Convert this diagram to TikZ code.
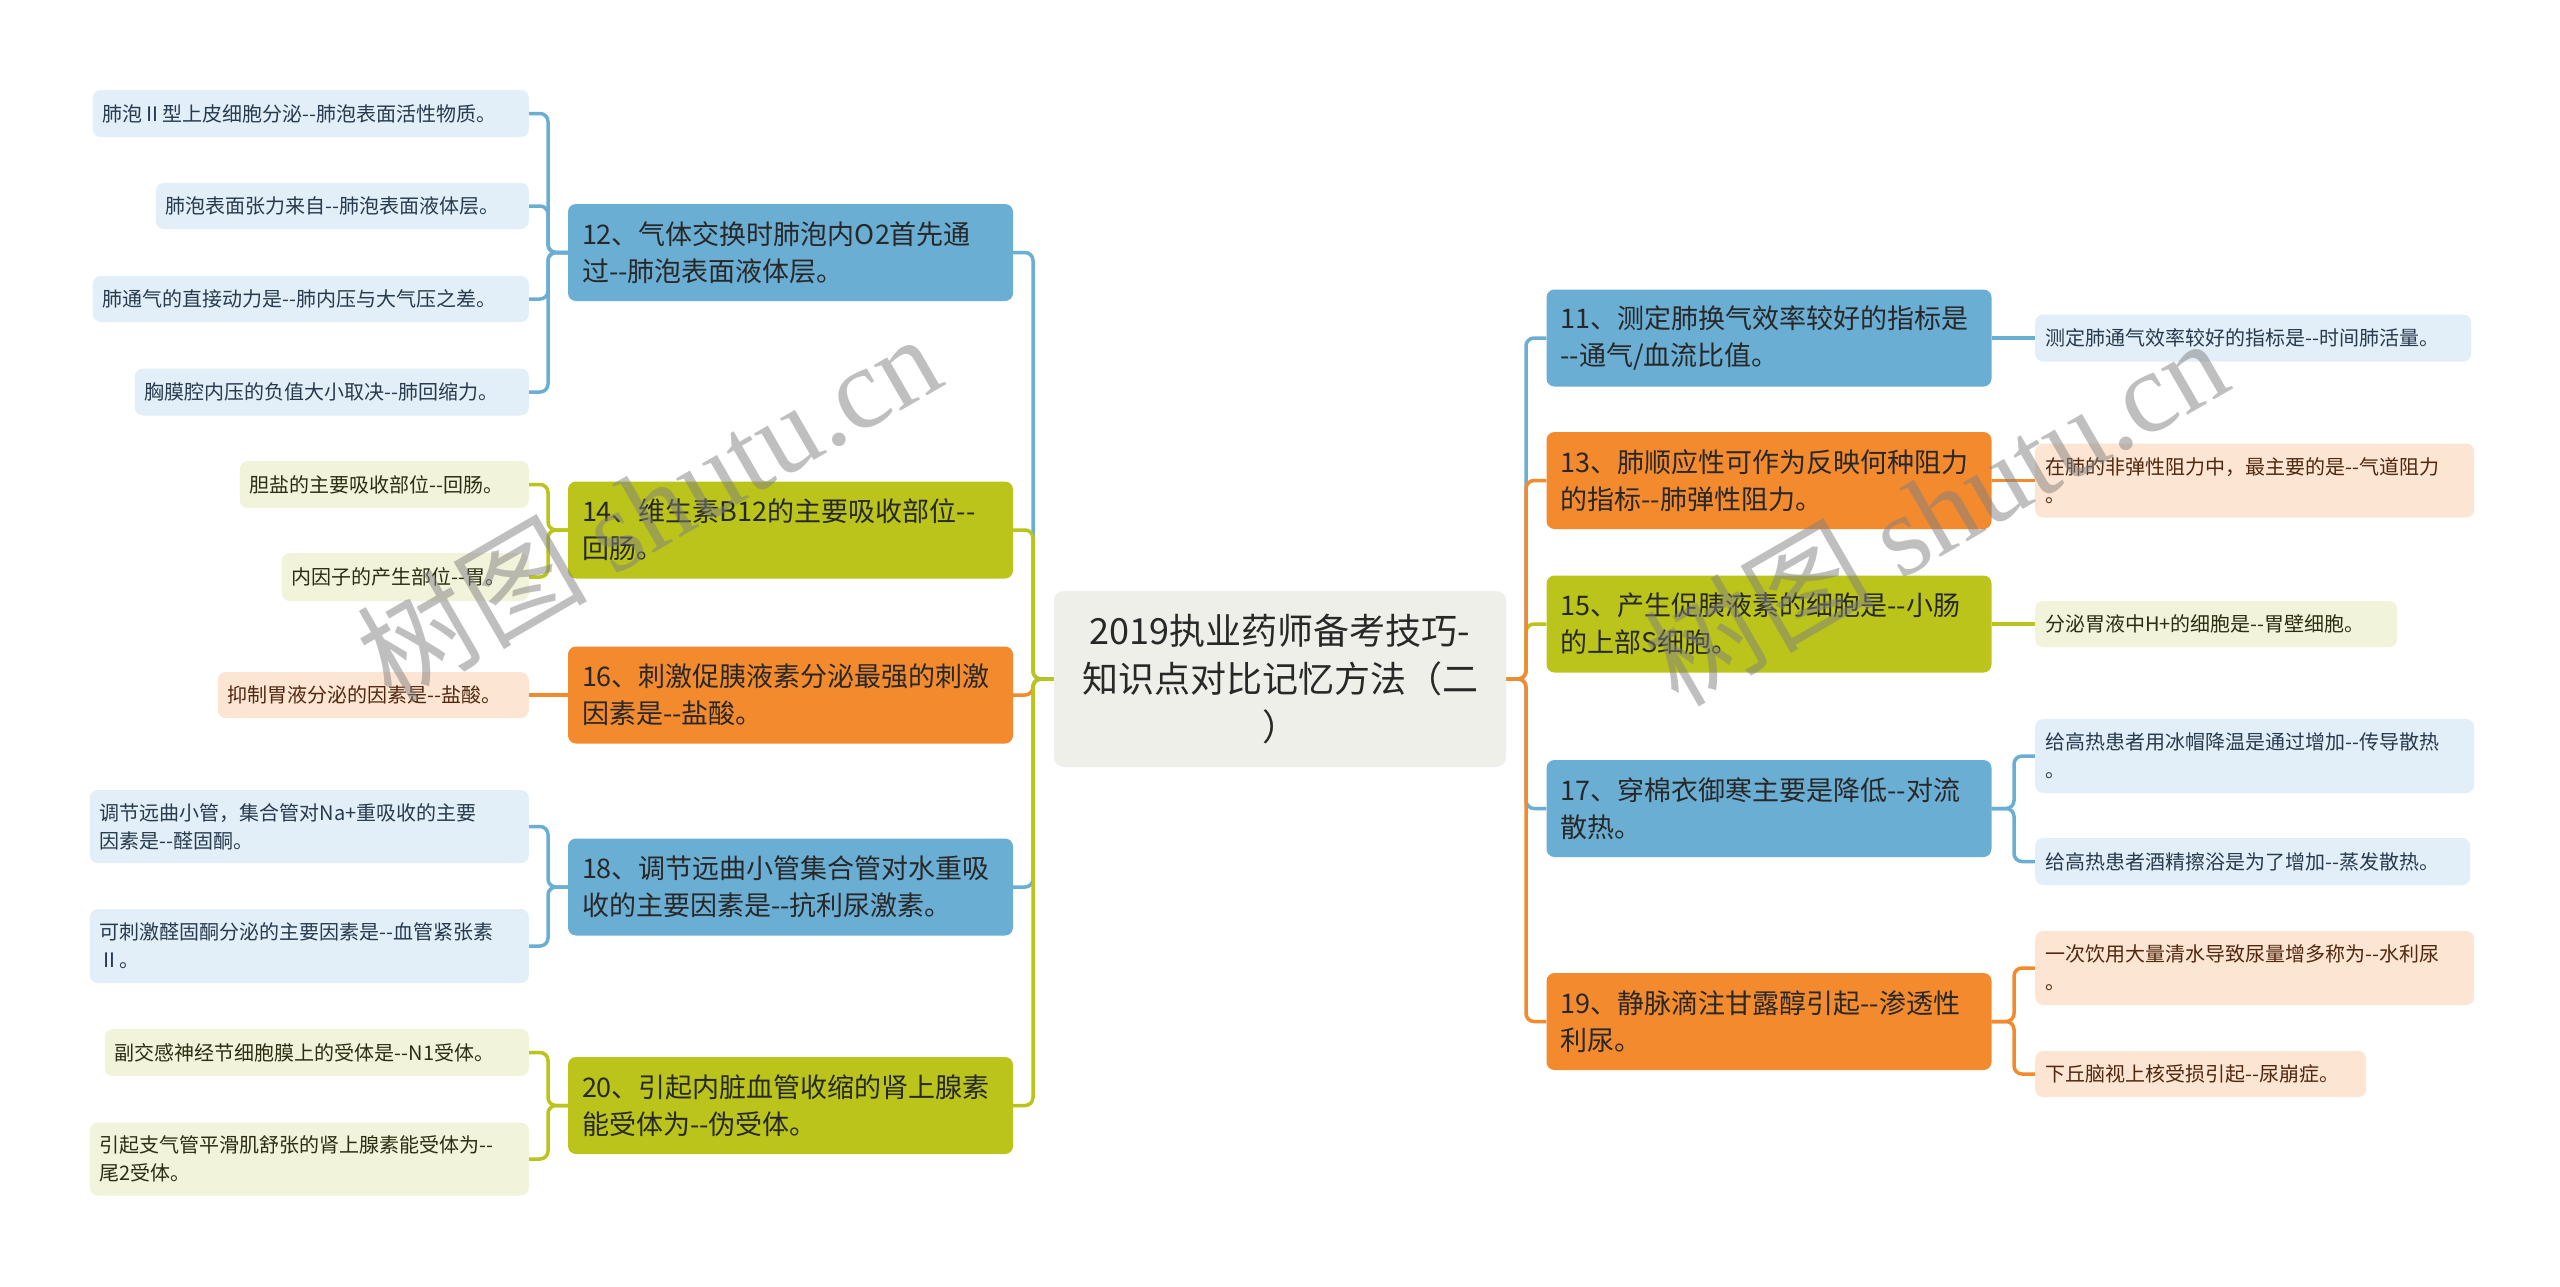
\documentclass[tikz,border=0pt]{standalone}
\usepackage{fontspec}
\newfontfamily\cjkf{Noto Sans CJK SC}
\newfontfamily\wmserif{Liberation Serif}
\usetikzlibrary{calc}
\pgfdeclarelayer{bg}
\pgfdeclarelayer{paper}
\pgfsetlayers{paper,bg,main}
\definecolor{cblue}{RGB}{106,174,212}
\definecolor{corange}{RGB}{244,138,46}
\definecolor{colive}{RGB}{187,196,26}
\definecolor{lblue}{RGB}{226,239,248}
\definecolor{lorange}{RGB}{253,229,211}
\definecolor{lolive}{RGB}{241,244,218}
\definecolor{rootfill}{RGB}{239,239,233}
\definecolor{txt}{RGB}{40,40,40}
\definecolor{tblue}{RGB}{40,58,78}
\definecolor{torange}{RGB}{80,40,15}
\definecolor{tolive}{RGB}{45,45,20}
\begin{document}
\begin{tikzpicture}[x=1pt,y=-1pt,
  rootbox/.style={rounded corners=10, fill=rootfill, inner xsep=16, inner ysep=0,
    text width=420, minimum height=176, align=center, text=txt,
    font=\cjkf\fontsize{36}{48}\selectfont},
  mainbox/.style={rounded corners=8, inner xsep=14, inner ysep=0, text width=417,
    minimum height=97, align=left, text=txt, font=\cjkf\fontsize{27}{37}\selectfont},
  subbox/.style={rounded corners=8, inner xsep=10, inner ysep=0, align=left,
    font=\cjkf\fontsize{20}{28}\selectfont},
  bsub/.style={subbox, fill=lblue, text=tblue},
  osub/.style={subbox, fill=lorange, text=torange},
  gsub/.style={subbox, fill=lolive, text=tolive},
  lk/.style={line width=3.5, rounded corners=8},
  wm/.style={text=black!50, text opacity=0.5, font=\cjkf\fontsize{115}{115}\selectfont, inner sep=0}
]
\begin{pgfonlayer}{paper}
\fill[white] (0,0) rectangle (2560,1286);
\end{pgfonlayer}
\path[use as bounding box] (0,0) rectangle (2560,1286);

\coordinate (tL) at (1033,679);
\coordinate (tR) at (1526,679);
\coordinate (sL) at (548,0);
\coordinate (sR) at (2014,0);

% root
\node[rootbox] (root) at (1280,679) {2019执业药师备考技巧-\\知识点对比记忆方法（二\\）};

% left main
\node[mainbox, fill=cblue] (m12) at (790.5,252.5) {12、气体交换时肺泡内O2首先通\\过--肺泡表面液体层。};
\node[mainbox, fill=colive] (m14) at (790.5,530) {14、维生素B12的主要吸收部位--\\回肠。};
\node[mainbox, fill=corange] (m16) at (790.5,695) {16、刺激促胰液素分泌最强的刺激\\因素是--盐酸。};
\node[mainbox, fill=cblue] (m18) at (790.5,887) {18、调节远曲小管集合管对水重吸\\收的主要因素是--抗利尿激素。};
\node[mainbox, fill=colive] (m20) at (790.5,1105.5) {20、引起内脏血管收缩的肾上腺素\\能受体为--伪受体。};

% right main
\node[mainbox, fill=cblue] (m11) at (1769,338) {11、测定肺换气效率较好的指标是\\--通气/血流比值。};
\node[mainbox, fill=corange] (m13) at (1769,480.5) {13、肺顺应性可作为反映何种阻力\\的指标--肺弹性阻力。};
\node[mainbox, fill=colive] (m15) at (1769,624) {15、产生促胰液素的细胞是--小肠\\的上部S细胞。};
\node[mainbox, fill=cblue] (m17) at (1769,808.5) {17、穿棉衣御寒主要是降低--对流\\散热。};
\node[mainbox, fill=corange] (m19) at (1769,1021.5) {19、静脉滴注甘露醇引起--渗透性\\利尿。};

% left subs
\node[bsub, anchor=east, text width=416, minimum height=47] (s12a) at (529,113.5) {肺泡Ⅱ型上皮细胞分泌--肺泡表面活性物质。};
\node[bsub, anchor=east, text width=353, minimum height=46] (s12b) at (529,206) {肺泡表面张力来自--肺泡表面液体层。};
\node[bsub, anchor=east, text width=416, minimum height=46] (s12c) at (529,299) {肺通气的直接动力是--肺内压与大气压之差。};
\node[bsub, anchor=east, text width=374, minimum height=47] (s12d) at (529,392) {胸膜腔内压的负值大小取决--肺回缩力。};
\node[gsub, anchor=east, text width=269, minimum height=47] (s14a) at (529,484.5) {胆盐的主要吸收部位--回肠。};
\node[gsub, anchor=east, text width=227, minimum height=48] (s14b) at (529,577) {内因子的产生部位--胃。};
\node[osub, anchor=east, text width=291, minimum height=46] (s16a) at (529,695) {抑制胃液分泌的因素是--盐酸。};
\node[bsub, anchor=east, text width=419, minimum height=73] (s18a) at (529,826.5) {调节远曲小管，集合管对Na+重吸收的主要\\因素是--醛固酮。};
\node[bsub, anchor=east, text width=419, minimum height=74] (s18b) at (529,946) {可刺激醛固酮分泌的主要因素是--血管紧张素\\Ⅱ。};
\node[gsub, anchor=east, text width=404, minimum height=47] (s20a) at (529,1052.5) {副交感神经节细胞膜上的受体是--N1受体。};
\node[gsub, anchor=east, text width=419, minimum height=73] (s20b) at (529,1159) {引起支气管平滑肌舒张的肾上腺素能受体为--\\尾2受体。};

% right subs
\node[bsub, anchor=west, text width=416, minimum height=47] (s11a) at (2035,338) {测定肺通气效率较好的指标是--时间肺活量。};
\node[osub, anchor=west, text width=419, minimum height=74] (s13a) at (2035,480.5) {在肺的非弹性阻力中，最主要的是--气道阻力\\。};
\node[gsub, anchor=west, text width=342, minimum height=46] (s15a) at (2035,624) {分泌胃液中H+的细胞是--胃壁细胞。};
\node[bsub, anchor=west, text width=419, minimum height=74] (s17a) at (2035,756) {给高热患者用冰帽降温是通过增加--传导散热\\。};
\node[bsub, anchor=west, text width=415, minimum height=47] (s17b) at (2035,861.5) {给高热患者酒精擦浴是为了增加--蒸发散热。};
\node[osub, anchor=west, text width=419, minimum height=74] (s19a) at (2035,968) {一次饮用大量清水导致尿量增多称为--水利尿\\。};
\node[osub, anchor=west, text width=311, minimum height=46] (s19b) at (2035,1074) {下丘脑视上核受损引起--尿崩症。};

\begin{pgfonlayer}{bg}
% root to left mains
\draw[lk, cblue] (root.west) -- (tL) |- (m12.east);
\draw[lk, colive] (root.west) -- (tL) |- (m14.east);
\draw[lk, corange] (root.west) -- (tL) |- (m16.east);
\draw[lk, cblue] (root.west) -- (tL) |- (m18.east);
\draw[lk, colive] (root.west) -- (tL) |- (m20.east);
% root to right mains
\draw[lk, cblue] (root.east) -- (tR) |- (m11.west);
\draw[lk, colive] (root.east) -- (tR) |- (m15.west);
\draw[lk, corange] (root.east) -- (tR) |- (m13.west);
\draw[lk, cblue] (root.east) -- (tR) |- (m17.west);
\draw[lk, corange] (root.east) -- (tR) |- (m19.west);
% left subs
\foreach \s in {s12a,s12b,s12c,s12d}
  \draw[lk, cblue] (m12.west) -- (m12.west -| sL) |- (\s.east);
\foreach \s in {s14a,s14b}
  \draw[lk, colive] (m14.west) -- (m14.west -| sL) |- (\s.east);
\draw[lk, corange] (m16.west) -- (s16a.east);
\foreach \s in {s18a,s18b}
  \draw[lk, cblue] (m18.west) -- (m18.west -| sL) |- (\s.east);
\foreach \s in {s20a,s20b}
  \draw[lk, colive] (m20.west) -- (m20.west -| sL) |- (\s.east);
% right subs
\draw[lk, cblue] (m11.east) -- (s11a.west);
\draw[lk, corange] (m13.east) -- (s13a.west);
\draw[lk, colive] (m15.east) -- (s15a.west);
\foreach \s in {s17a,s17b}
  \draw[lk, cblue] (m17.east) -- (m17.east -| sR) |- (\s.west);
\foreach \s in {s19a,s19b}
  \draw[lk, corange] (m19.east) -- (m19.east -| sR) |- (\s.west);
\end{pgfonlayer}

% watermarks
\node[wm, rotate=30] (wm1) at (648,506) {树图 {\wmserif shutu.cn}};
\node[wm, rotate=30] (wm2) at (1935,510) {树图 {\wmserif shutu.cn}};
\end{tikzpicture}
\end{document}
